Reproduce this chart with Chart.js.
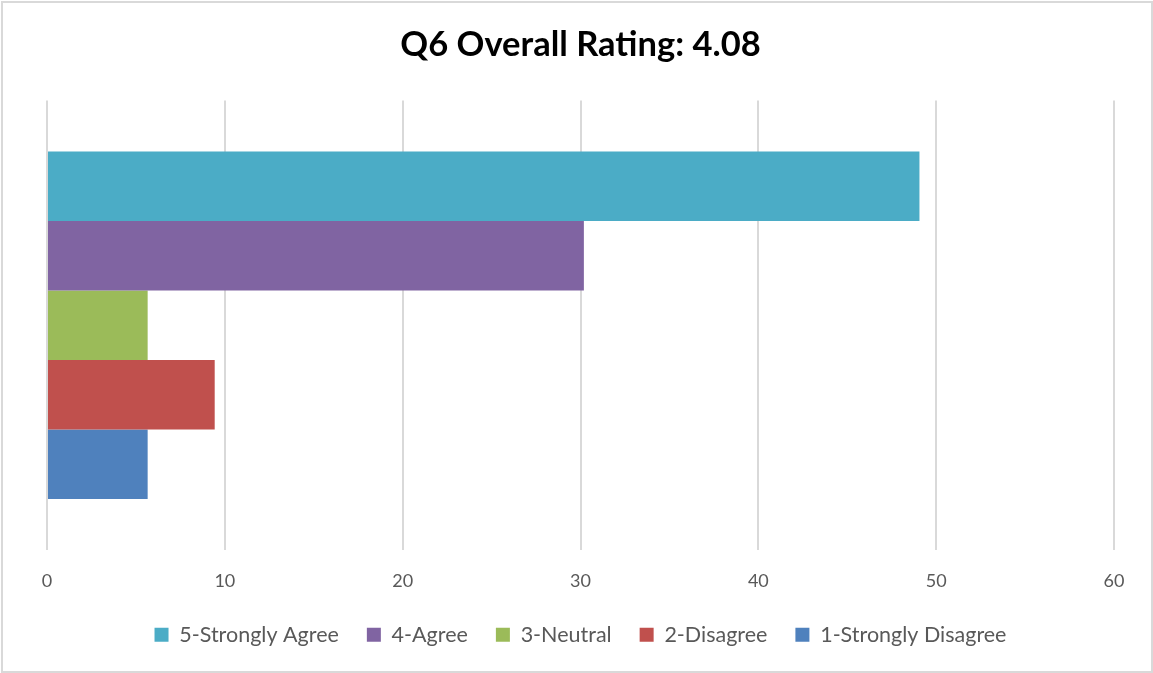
<!DOCTYPE html>
<html>
<head>
<meta charset="utf-8">
<script src="https://cdn.jsdelivr.net/npm/chart.js@4/dist/chart.umd.min.js"></script>
<style>
html,body{margin:0;padding:0;background:#fff;}
#wrap{position:relative;width:1153px;height:673px;}
</style>
</head>
<body>
<div id="wrap"><canvas id="c" width="1153" height="673"></canvas></div>
<script>
const categories = ["Q6"];
const seriesNames = ["5-Strongly Agree", "4-Agree", "3-Neutral", "2-Disagree", "1-Strongly Disagree"];
const seriesValues = [49.06, 30.19, 5.66, 9.43, 5.66];
const seriesColors = ["#4BACC6", "#8064A2", "#9BBB59", "#C0504D", "#4F81BD"];
const xTicks = [0, 10, 20, 30, 40, 50, 60];
const titleText = "Q6 Overall Rating: 4.08";

const FONT = "Lato, 'Open Sans', sans-serif";

const borderPlugin = {
  id: 'outerBorder',
  afterDraw(chart) {
    const ctx = chart.ctx;
    ctx.save();
    ctx.strokeStyle = '#d9d9d9';
    ctx.lineWidth = 2;
    ctx.strokeRect(2, 2, 1150, 670);
    ctx.restore();
  }
};

new Chart(document.getElementById('c'), {
  type: 'bar',
  data: {
    labels: categories,
    datasets: seriesNames.map((n, i) => ({
      label: n,
      data: [seriesValues[i]],
      backgroundColor: seriesColors[i],
      borderWidth: 0,
      categoryPercentage: 0.773,
      barPercentage: 1.0
    }))
  },
  options: {
    indexAxis: 'y',
    responsive: false,
    animation: false,
    layout: { padding: { left: 47, right: 39, top: 0, bottom: 17.5 } },
    scales: {
      x: {
        min: 0, max: 60,
        afterBuildTicks(scale) { scale.ticks = xTicks.map(v => ({ value: v })); },
        afterFit(scale) { scale.height = 46; },
        grid: { color: '#d9d9d9', lineWidth: 2, drawTicks: false },
        border: { display: false },
        ticks: { color: '#595959', font: { family: FONT, size: 18 }, padding: 20.5 }
      },
      y: { display: false }
    },
    plugins: {
      title: {
        display: true,
        text: titleText,
        color: '#000',
        font: { family: FONT, size: 34.5, weight: 'bold' },
        padding: { top: 24.3, bottom: 34.8 }
      },
      legend: {
        position: 'bottom',
        labels: {
          color: '#595959',
          font: { family: FONT, size: 21.5 },
          boxWidth: 14, boxHeight: 14,
          padding: 28
        }
      },
      tooltip: { enabled: false }
    }
  },
  plugins: [borderPlugin]
});
</script>
</body>
</html>
